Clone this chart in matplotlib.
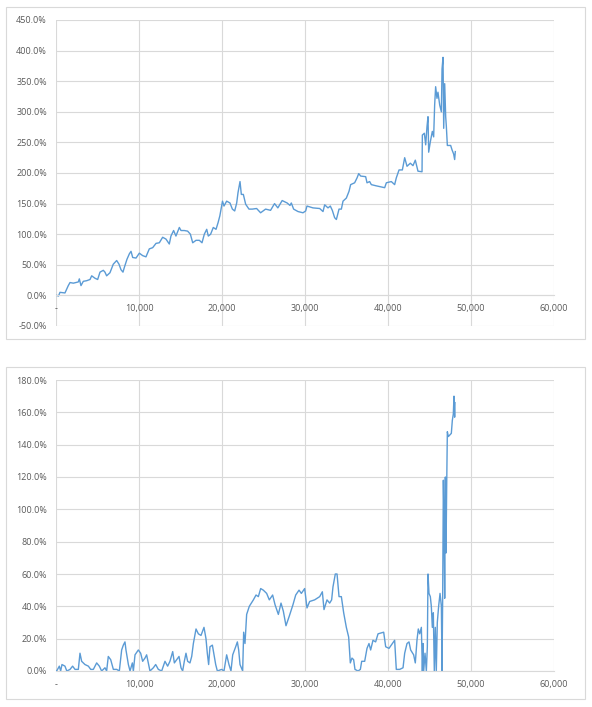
import matplotlib
matplotlib.use("Agg")
import matplotlib.pyplot as plt
from matplotlib.patches import Rectangle
from matplotlib.ticker import FuncFormatter, MultipleLocator

plt.rcParams['font.family'] = ['Open Sans', 'DejaVu Sans']

# cumulative return (top chart), x = trade count, y = percent
cum_x = [0, 100, 300, 480, 1080, 1480, 1690, 2090, 2690, 2810, 3010, 3290, 3690, 4100, 4300, 4700, 5020,
         5300, 5700, 5900, 6100, 6500, 6900, 7310, 7590, 7830, 8070, 8240, 8550, 8840, 9040, 9240, 9640,
         10040, 10440, 10840, 11240, 11650, 12050, 12450, 12850, 13250, 13650, 13850, 14170, 14450, 14860,
         15060, 15460, 15860, 16190, 16470, 16870, 17270, 17590, 17870, 18160, 18350, 18630, 18950, 19280,
         19530, 19740, 20060, 20240, 20560, 20960, 21250, 21530, 21770, 21930, 22170, 22330, 22570, 22850,
         23250, 23650, 24170, 24650, 25250, 25850, 26330, 26730, 27250, 27850, 28190, 28350, 28630, 29160,
         29760, 30080, 30240, 30960, 31770, 32170, 32370, 32770, 33050, 33290, 33570, 33780, 34100, 34380,
         34580, 34980, 35300, 35500, 35980, 36270, 36470, 36710, 37310, 37470, 37790, 37990, 38590, 39600,
         39800, 40400, 40800, 41000, 41330, 41730, 42010, 42290, 42690, 43010, 43290, 43610, 44100, 44140,
         44380, 44540, 44700, 44820, 44900, 45100, 45340, 45500, 45620, 45740, 45900, 46020, 46230, 46430,
         46510, 46630, 46710, 46830, 46950, 47030, 47150, 47550, 47710, 47910, 48030, 48110]
cum_y = [0, 0, -1, 5, 4, 16, 21, 20, 22, 27, 16, 23, 24, 26, 32, 28, 26,
         38, 41, 38, 32, 37, 51, 57, 51, 42, 38, 46, 59, 68, 72, 62, 61,
         69, 65, 63, 76, 78, 85, 86, 95, 92, 84, 97, 106, 97, 111,
         106, 106, 105, 100, 86, 90, 90, 86, 100, 108, 97, 100, 111, 108,
         119, 130, 154, 146, 154, 151, 141, 138, 151, 168, 186, 165, 165, 149,
         141, 141, 142, 135, 141, 139, 150, 143, 155, 151, 147, 151, 141, 137,
         135, 138, 146, 143, 142, 137, 148, 143, 146, 139, 127, 124, 141, 141,
         154, 159, 170, 181, 184, 192, 199, 195, 194, 184, 186, 181, 179, 176,
         184, 186, 181, 192, 205, 205, 225, 211, 216, 212, 221, 203, 202, 262,
         265, 246, 276, 292, 234, 251, 268, 259, 311, 341, 322, 332, 311, 300,
         370, 389, 273, 346, 292, 276, 245, 245, 238, 231, 222, 235]

# drawdown (bottom chart)
dd_x = [0, 80, 400, 560, 720, 1080, 1300, 1690, 2000, 2290, 2690, 2890, 3090, 3490, 3900, 4180, 4500,
        4900, 5220, 5500, 5900, 6100, 6300, 6590, 6910, 7310, 7630, 7910, 8110, 8310, 8430, 8720, 8920,
        9200, 9320, 9520, 9920, 10200, 10440, 10720, 10920, 11200, 11320, 11730, 12010, 12330, 12730,
        13130, 13450, 13730, 14060, 14260, 14540, 14820, 15060, 15260, 15460, 15660, 15860, 16140, 16350,
        16550, 16870, 17150, 17470, 17830, 18070, 18230, 18390, 18550, 18840, 19080, 19240, 19440, 19960,
        20240, 20560, 20840, 21080, 21290, 21650, 21850, 22010, 22170, 22490, 22610, 22770, 22970, 23290,
        23780, 24100, 24380, 24660, 24980, 25380, 25700, 26100, 26390, 26790, 27110, 27390, 27710, 28110,
        28550, 28880, 29280, 29560, 29960, 30240, 30560, 31160, 31770, 32090, 32290, 32650, 32970, 33210,
        33370, 33650, 33860, 34100, 34380, 34660, 34980, 35260, 35460, 35660, 35860, 36020, 36390, 36670,
        36830, 37190, 37470, 37710, 37910, 38190, 38510, 38800, 39480, 39720, 40120, 40520, 40800, 41000,
        41410, 41810, 42010, 42290, 42530, 42730, 43090, 43290, 43490, 43650, 43820, 44020, 44140, 44220,
        44300, 44460, 44620, 44740, 44820, 44940, 45100, 45220, 45340, 45460, 45580, 45700, 45820, 45940,
        46100, 46270, 46430, 46510, 46590, 46670, 46750, 46830, 46910, 46990, 47070, 47150, 47270, 47630,
        47750, 47870, 47950, 48030, 48070]
dd_y = [0, 0, 3, 0, 4, 3, 0, 1, 3, 1, 1, 11, 6, 4, 3, 1, 1,
        5, 3, 0, 2, 0, 9, 7, 1, 1, 0, 13, 16, 18, 13, 4, 0,
        5, 0, 10, 13, 11, 6, 8, 10, 3, 0, 2, 4, 1, 0,
        6, 3, 6, 12, 5, 7, 9, 2, 0, 6, 11, 6, 5, 9,
        17, 26, 23, 22, 27, 20, 11, 4, 15, 16, 9, 4, 0, 1,
        0, 10, 4, 0, 10, 15, 18, 13, 4, 0, 24, 17, 35, 40,
        44, 47, 46, 51, 50, 48, 44, 47, 41, 35, 42, 37, 28, 34,
        41, 47, 50, 48, 51, 39, 43, 44, 46, 49, 38, 44, 42, 44,
        52, 60, 60, 46, 46, 36, 27, 21, 5, 8, 7, 1, 0, 1,
        6, 6, 14, 17, 13, 19, 18, 23, 24, 15, 14, 17, 19, 1,
        1, 2, 11, 17, 18, 13, 10, 5, 19, 26, 23, 27, 0, 17,
        0, 11, 0, 15, 60, 48, 46, 40, 27, 36, 0, 27, 0, 30,
        40, 48, 40, 0, 48, 118, 93, 45, 120, 73, 114, 148, 145, 147,
        155, 159, 170, 157, 166]

x_ticks = [0, 10000, 20000, 30000, 40000, 50000, 60000]

line_color = "#5B9BD5"
grid_color = "#D9D9D9"
text_color = "#595959"


def x_fmt(v, pos):
    return "-" if v == 0 else f"{v:,.0f}"


def style(ax, ymin, ymax, ystep):
    ax.set_xlim(0, 60000)
    ax.set_ylim(ymin, ymax)
    ax.set_xticks(x_ticks)
    ax.yaxis.set_major_locator(MultipleLocator(ystep))
    ax.xaxis.set_major_formatter(FuncFormatter(x_fmt))
    ax.yaxis.set_major_formatter(FuncFormatter(lambda v, p: f"{v:.1f}%"))
    ax.grid(True, color=grid_color, lw=0.8)
    ax.set_axisbelow(True)
    for s in ["top", "right", "left"]:
        ax.spines[s].set_visible(False)
    ax.spines["bottom"].set_position(("data", 0))
    ax.spines["bottom"].set_color(grid_color)
    ax.spines["bottom"].set_linewidth(0.8)
    ax.tick_params(length=0, labelsize=6.5, labelcolor=text_color)
    ax.tick_params(axis="y", pad=6.5)
    ax.tick_params(axis="x", pad=6.5)


fig = plt.figure(figsize=(5.92, 7.07), dpi=100)

# chart frames
fig.patches.append(Rectangle((6 / 592, 1 - 339 / 707), 579 / 592, 332 / 707,
                             transform=fig.transFigure, fill=False, ec=grid_color, lw=0.8))
fig.patches.append(Rectangle((6 / 592, 1 - 699 / 707), 579 / 592, 332 / 707,
                             transform=fig.transFigure, fill=False, ec=grid_color, lw=0.8))

ax1 = fig.add_axes([56 / 592, 1 - 326 / 707, 498 / 592, 306 / 707])
ax1.plot(cum_x, cum_y, color=line_color, lw=1.0)
style(ax1, -50, 450, 50)

ax2 = fig.add_axes([56 / 592, 1 - 671 / 707, 498 / 592, 291 / 707])
ax2.plot(dd_x, dd_y, color=line_color, lw=1.0)
style(ax2, 0, 180, 20)

fig.savefig("out.png", dpi=100)
